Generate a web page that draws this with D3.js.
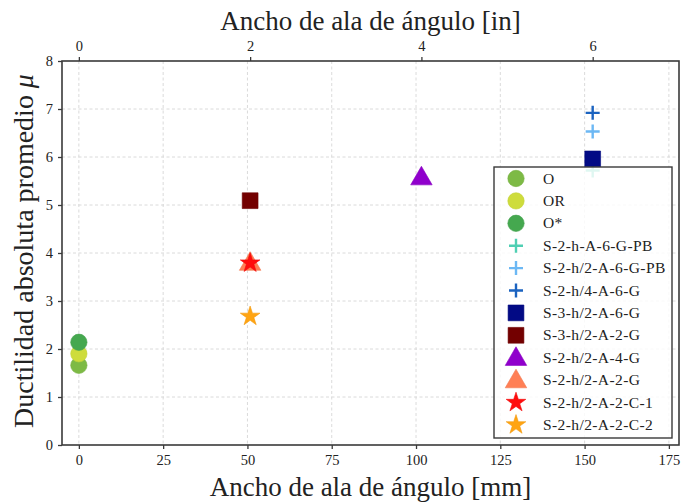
<!DOCTYPE html>
<html>
<head>
<meta charset="utf-8">
<script src="https://cdn.jsdelivr.net/npm/d3@7"></script>
<style>
	body { margin: 0; background: #fff; }
	svg text { font-family: "Liberation Serif", "DejaVu Serif", serif; fill: #222; }
</style>
</head>
<body>
<div id="chart"></div>
<script>
// series labels, in legend order
var names = ['O', 'OR', 'O*', 'S-2-h-A-6-G-PB', 'S-2-h/2-A-6-G-PB', 'S-2-h/4-A-6-G',
	'S-3-h/2-A-6-G', 'S-3-h/2-A-2-G', 'S-2-h/2-A-4-G', 'S-2-h/2-A-2-G',
	'S-2-h/2-A-2-C-1', 'S-2-h/2-A-2-C-2']
// angle leg width in mm
var widthMm = [0, 0, 0, 152.4, 152.4, 152.4, 152.4, 50.8, 101.6, 50.8, 50.8, 50.8]
// average absolute ductility
var ductility = [1.66, 1.9, 2.14, 5.72, 6.53, 6.92, 5.96, 5.09, 5.58, 3.8, 3.79, 2.68]
var shapes = ['circle', 'circle', 'circle', 'plus', 'plus', 'plus',
	'square', 'square', 'triangle', 'triangle', 'star', 'star']
var colors = ['#7dba45', '#cedc3c', '#45a84f', '#4fcfb3', '#6cb8f4', '#1b63c0',
	'#020a85', '#730000', '#9000cc', '#ff7f55', '#ff0d0d', '#ffa412']
var xTicksMm = [0, 25, 50, 75, 100, 125, 150, 175]
var xTicksIn = [0, 2, 4, 6]
var yTicks = [0, 1, 2, 3, 4, 5, 6, 7, 8]

var W = 681, H = 504
var margin = { left: 62, right: 2, top: 61, bottom: 59 }
var plotW = W - margin.left - margin.right
var plotH = H - margin.top - margin.bottom

var svg = d3.select('#chart').append('svg')
	.attr('width', W)
	.attr('height', H)

var x = d3.scaleLinear().domain([-5, 178]).range([0, plotW])
var xIn = d3.scaleLinear().domain([-5 / 25.4, 178 / 25.4]).range([0, plotW])
var y = d3.scaleLinear().domain([0, 8]).range([plotH, 0])

var g = svg.append('g')
	.attr('transform', 'translate(' + margin.left + ',' + margin.top + ')')

// grid
g.append('g').selectAll('line').data(xTicksMm).enter().append('line')
	.attr('x1', function(d) { return x(d) }).attr('x2', function(d) { return x(d) })
	.attr('y1', 0).attr('y2', plotH)
	.attr('stroke', '#d6d6d6').attr('stroke-width', 0.9).attr('stroke-dasharray', '3,2.5')
g.append('g').selectAll('line').data(yTicks.slice(1, -1)).enter().append('line')
	.attr('y1', function(d) { return y(d) }).attr('y2', function(d) { return y(d) })
	.attr('x1', 0).attr('x2', plotW)
	.attr('stroke', '#d6d6d6').attr('stroke-width', 0.9).attr('stroke-dasharray', '3,2.5')

// marker symbols
var symbolOf = {
	circle: d3.symbol().type(d3.symbolCircle).size(210),
	square: d3.symbol().type(d3.symbolSquare).size(250),
	triangle: d3.symbol().type(d3.symbolTriangle).size(200),
	star: d3.symbol().type(d3.symbolStar).size(120),
	plus: null
}

function drawMarker(sel, shape, color) {
	if (shape === 'plus') {
		var s = 7
		sel.append('path')
			.attr('d', 'M' + (-s) + ',0H' + s + 'M0,' + (-s) + 'V' + s)
			.attr('stroke', color).attr('stroke-width', 2.4).attr('fill', 'none')
	} else {
		sel.append('path')
			.attr('d', symbolOf[shape]())
			.attr('transform', shape === 'triangle' ? 'translate(0,1.5)' : null)
			.attr('fill', color)
			.attr('stroke', d3.color(color).darker(0.15))
			.attr('stroke-width', 0.6)
	}
}

var idx = d3.range(names.length)
var pts = g.append('g').selectAll('g').data(idx).enter().append('g')
	.attr('transform', function(i) { return 'translate(' + x(widthMm[i]) + ',' + y(ductility[i]) + ')' })
pts.each(function(i) { drawMarker(d3.select(this), shapes[i], colors[i]) })

// axes
var axisColor = '#3a3a3a'
var bottomAxis = g.append('g').attr('transform', 'translate(0,' + plotH + ')')
	.call(d3.axisBottom(x).tickValues(xTicksMm).tickSize(4).tickPadding(6))
var topAxis = g.append('g')
	.call(d3.axisTop(xIn).tickValues(xTicksIn).tickSize(4).tickPadding(6))
var leftAxis = g.append('g')
	.call(d3.axisLeft(y).tickValues(yTicks).tickSize(4).tickPadding(5))
;[bottomAxis, topAxis, leftAxis].forEach(function(a) {
	a.select('.domain').remove()
	a.selectAll('line').attr('stroke', axisColor).attr('stroke-width', 1.3)
	a.selectAll('text').style('font-size', '14.5px').attr('fill', '#222')
		.style('font-family', '"Liberation Serif", serif')
})

// frame
g.append('rect')
	.attr('width', plotW).attr('height', plotH)
	.attr('fill', 'none').attr('stroke', axisColor).attr('stroke-width', 1.6)

// legend
var legX = 494 - margin.left, legY = 167 - margin.top
var legend = g.append('g').attr('transform', 'translate(' + legX + ',' + legY + ')')
legend.append('rect')
	.attr('width', 178).attr('height', 271)
	.attr('fill', 'white').attr('fill-opacity', 0.82)
	.attr('stroke', '#3a3a3a').attr('stroke-width', 1.4)
var row = legend.selectAll('.row').data(idx).enter().append('g')
	.attr('class', 'row')
	.attr('transform', function(i) { return 'translate(22,' + (11.5 + i * 22.4) + ')' })
row.each(function(i) {
	var r = d3.select(this)
	drawMarker(r, shapes[i], colors[i])
	r.append('text').attr('x', 27).attr('y', 5)
		.style('font-size', '15.5px')
		.style('letter-spacing', '0.4px')
		.text(names[i])
})

// titles
var cx = margin.left + plotW / 2
svg.append('text')
	.attr('x', cx).attr('y', 496)
	.attr('text-anchor', 'middle')
	.style('font-size', '27px')
	.text('Ancho de ala de ángulo [mm]')
svg.append('text')
	.attr('x', cx).attr('y', 30)
	.attr('text-anchor', 'middle')
	.style('font-size', '27px')
	.text('Ancho de ala de ángulo [in]')
var yl = svg.append('text')
	.attr('transform', 'translate(33,' + (margin.top + plotH / 2 - 2) + ') rotate(-90)')
	.attr('text-anchor', 'middle')
	.style('font-size', '28px')
yl.append('tspan').text('Ductilidad absoluta promedio ')
yl.append('tspan').style('font-style', 'italic').text('μ')
</script>
</body>
</html>
